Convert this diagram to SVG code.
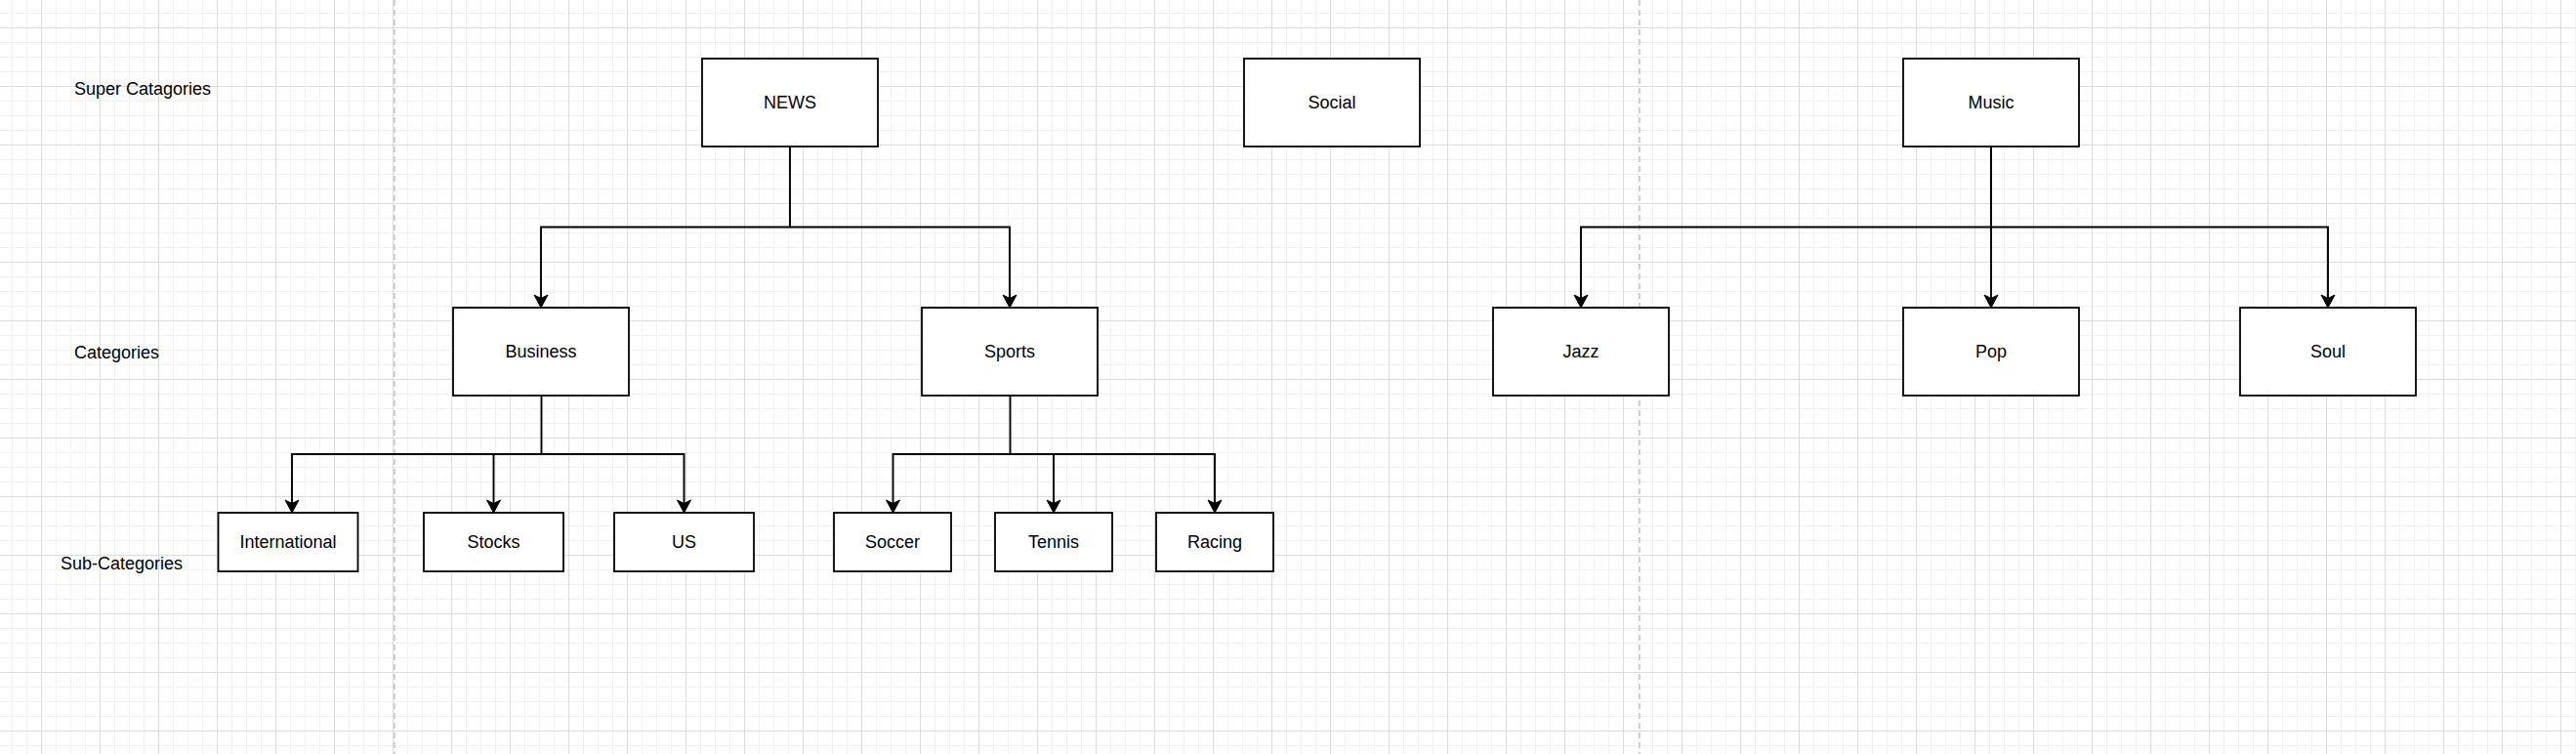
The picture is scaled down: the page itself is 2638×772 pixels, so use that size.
<svg xmlns="http://www.w3.org/2000/svg" width="2638" height="772" viewBox="0 0 2638 772">
<style>
.box{fill:#ffffff;stroke:#000000;stroke-width:1.8}
.t{font-family:"Liberation Sans",Arial,Helvetica,sans-serif;font-size:18px;fill:#000000;text-anchor:middle;dominant-baseline:central}
.lbl{font-family:"Liberation Sans",Arial,Helvetica,sans-serif;font-size:18px;fill:#000000;dominant-baseline:central}
.edge{fill:none;stroke:#000000;stroke-width:1.9}
.sep{stroke:#c2c2c2;stroke-width:1.5;stroke-dasharray:6 4}
</style>
<defs>
<pattern id="grid" patternUnits="userSpaceOnUse" x="42" y="28" width="60" height="60">
<rect x="0" y="0" width="60" height="60" fill="#ffffff"/>
<rect x="15" y="0" width="1" height="60" fill="#f2f2f2"/>
<rect x="30" y="0" width="1" height="60" fill="#f2f2f2"/>
<rect x="45" y="0" width="1" height="60" fill="#f2f2f2"/>
<rect x="0" y="15" width="60" height="1" fill="#f2f2f2"/>
<rect x="0" y="30" width="60" height="1" fill="#f2f2f2"/>
<rect x="0" y="45" width="60" height="1" fill="#f2f2f2"/>
<rect x="0" y="0" width="1" height="60" fill="#dcdcdc"/>
<rect x="0" y="0" width="60" height="1" fill="#dcdcdc"/>
</pattern>
<marker id="arr" markerUnits="userSpaceOnUse" viewBox="-15 -8 16 16" markerWidth="16" markerHeight="16" refX="0" refY="0" orient="auto" overflow="visible">
<path d="M0,0 L-13,-7 L-9.5,0 L-13,7 Z" fill="#000000" stroke="#000000" stroke-width="1"/>
</marker>
</defs>
<rect x="0" y="0" width="2638" height="772" fill="url(#grid)"/>
<line class="sep" x1="404" y1="0" x2="404" y2="772"/>
<line class="sep" x1="1679" y1="0" x2="1679" y2="772"/>

<g id="labels">
<text class="lbl" x="76" y="91">Super Catagories</text>
<text class="lbl" x="76" y="361">Categories</text>
<text class="lbl" x="62" y="577">Sub-Categories</text>
</g>

<g id="connectors">
<path class="edge" d="M809,150 V232.5 H554 V315" marker-end="url(#arr)"/>
<path class="edge" d="M809,232.5 H1034 V315" marker-end="url(#arr)"/>
<path class="edge" d="M554.5,405 V465 H299 V525" marker-end="url(#arr)"/>
<path class="edge" d="M554.5,465 H505.5 V525" marker-end="url(#arr)"/>
<path class="edge" d="M554.5,465 H700.5 V525" marker-end="url(#arr)"/>
<path class="edge" d="M1034.5,405 V465 H914.5 V525" marker-end="url(#arr)"/>
<path class="edge" d="M1034.5,465 H1079 V525" marker-end="url(#arr)"/>
<path class="edge" d="M1034.5,465 H1244 V525" marker-end="url(#arr)"/>
<path class="edge" d="M2039,150 V232.5 H1619 V315" marker-end="url(#arr)"/>
<path class="edge" d="M2039,150 V315" marker-end="url(#arr)"/>
<path class="edge" d="M2039,232.5 H2384 V315" marker-end="url(#arr)"/>
</g>

<g id="news"><rect class="box" x="719" y="60" width="180" height="90"/><text class="t" x="809" y="105">NEWS</text></g>
<g id="social"><rect class="box" x="1274" y="60" width="180" height="90"/><text class="t" x="1364" y="105">Social</text></g>
<g id="music"><rect class="box" x="1949" y="60" width="180" height="90"/><text class="t" x="2039" y="105">Music</text></g>

<g id="business"><rect class="box" x="464" y="315" width="180" height="90"/><text class="t" x="554" y="360">Business</text></g>
<g id="sports"><rect class="box" x="944" y="315" width="180" height="90"/><text class="t" x="1034" y="360">Sports</text></g>
<g id="jazz"><rect class="box" x="1529" y="315" width="180" height="90"/><text class="t" x="1619" y="360">Jazz</text></g>
<g id="pop"><rect class="box" x="1949" y="315" width="180" height="90"/><text class="t" x="2039" y="360">Pop</text></g>
<g id="soul"><rect class="box" x="2294" y="315" width="180" height="90"/><text class="t" x="2384" y="360">Soul</text></g>

<g id="international"><rect class="box" x="223.5" y="525" width="143" height="60"/><text class="t" x="295" y="555">International</text></g>
<g id="stocks"><rect class="box" x="434" y="525" width="143" height="60"/><text class="t" x="505.5" y="555">Stocks</text></g>
<g id="us"><rect class="box" x="629" y="525" width="143" height="60"/><text class="t" x="700.5" y="555">US</text></g>
<g id="soccer"><rect class="box" x="854" y="525" width="120" height="60"/><text class="t" x="914" y="555">Soccer</text></g>
<g id="tennis"><rect class="box" x="1019" y="525" width="120" height="60"/><text class="t" x="1079" y="555">Tennis</text></g>
<g id="racing"><rect class="box" x="1184" y="525" width="120" height="60"/><text class="t" x="1244" y="555">Racing</text></g>
</svg>
